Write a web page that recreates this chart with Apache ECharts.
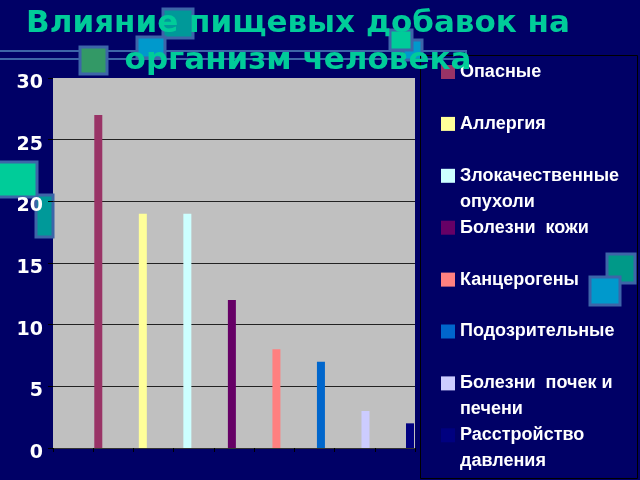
<!DOCTYPE html>
<html>
<head>
<meta charset="utf-8">
<script src="https://cdn.jsdelivr.net/npm/echarts@6/dist/echarts.min.js"></script>
<style>html,body{margin:0;padding:0;background:#000066;}#c{width:640px;height:480px;}</style>
</head>
<body>
<div id="c"></div>
<script>
var titleText = 'Влияние пищевых добавок на\nорганизм человека';
var categories = ['Опасные', 'Аллергия', 'Злокачественные опухоли', 'Болезни кожи', 'Канцерогены', 'Подозрительные', 'Болезни почек и печени', 'Расстройство давления'];
var legendLines = [['Опасные'], ['Аллергия'], ['Злокачественные', 'опухоли'], ['Болезни  кожи'], ['Канцерогены'], ['Подозрительные'], ['Болезни  почек и', 'печени'], ['Расстройство', 'давления']];
var values = [27, 19, 19, 12, 8, 7, 3, 2];
var colors = ['#993366', '#FFFF99', '#CCFFFF', '#660066', '#FF8080', '#0066CC', '#CCCCFF', '#000080'];
var yMin = 0, yMax = 30, yStep = 5;

var chart = echarts.init(document.getElementById('c'));

var gridTop = 78, gridBottom = 32;
var series = categories.map(function (name, i) {
  return {
    type: 'bar', name: name, xAxisIndex: 1, yAxisIndex: 1,
    data: values.map(function (v, j) { return j === i ? v : null; }),
    barWidth: 8, barGap: '-100%', clip: false,
    itemStyle: { color: colors[i] }
  };
});

var legends = categories.map(function (name, i) {
  var lines = legendLines[i];
  var center = 72 + 51.9 * i;
  var two = lines.length > 1;
  return {
    data: [{ name: name, icon: 'rect' }],
    left: 441, top: two ? center - 39 : center - 13,
    padding: 0, itemWidth: 14, itemHeight: 14, selectedMode: false,
    formatter: function () { return two ? '\n' + lines.join('\n') : lines[0]; },
    textStyle: { color: '#ffffff', fontSize: 18, fontWeight: 'bold', fontFamily: 'Liberation Sans, Arial, sans-serif', lineHeight: 26 }
  };
});

function sq(x, y, w, h, fill) {
  return { type: 'rect', shape: { x: x, y: y, width: w, height: h }, style: { fill: fill, stroke: '#3d65a8', lineWidth: 3 }, z: 0 };
}

chart.setOption({
  backgroundColor: '#000066',
  animation: false,
  title: {
    text: titleText, left: 293, top: 0, textAlign: 'center',
    textStyle: { color: '#00cc99', fontSize: 31, fontWeight: 'bold', fontFamily: 'DejaVu Sans, Verdana, sans-serif', lineHeight: 37 }
  },
  graphic: [
    { type: 'rect', shape: { x: -2, y: 51, width: 468, height: 8 }, style: { fill: 'none', stroke: '#3d65a8', lineWidth: 2 }, z: 0 },
    sq(163, 9, 30, 29, '#009999'),
    sq(137, 37, 28, 21, '#0099cc'),
    sq(80, 47, 27, 27, '#339966'),
    sq(403, 40, 19, 20, '#0099cc'),
    sq(390, 30, 22, 20, '#00cc99'),
    sq(36, 195, 17, 42, '#009999'),
    sq(-2, 162, 39, 35, '#00cc99'),
    sq(607, 254, 28, 29, '#009988'),
    sq(590, 277, 30, 28, '#0099cc'),
    { type: 'rect', shape: { x: 420.5, y: 55.5, width: 217, height: 423 }, style: { fill: 'none', stroke: '#000000', lineWidth: 1 }, z: 0 }
  ],
  legend: legends,
  grid: [
    { left: 53, top: gridTop, width: 362, bottom: gridBottom, show: true, backgroundColor: '#c0c0c0', borderWidth: 0 },
    { left: 98.3, top: gridTop, width: 311.7, bottom: gridBottom }
  ],
  xAxis: [
    { type: 'category', gridIndex: 0, data: ['', '', '', '', '', '', '', '', ''],
      axisLine: { show: true, lineStyle: { color: '#333333', width: 1 } },
      axisTick: { show: true, length: 4, interval: 0, lineStyle: { color: '#000000' } },
      axisLabel: { show: false } },
    { type: 'category', gridIndex: 1, data: categories, boundaryGap: false, show: false }
  ],
  yAxis: [
    { type: 'value', gridIndex: 0, min: yMin, max: yMax, interval: yStep,
      axisLine: { show: false },
      axisTick: { show: true, length: 5, lineStyle: { color: '#000000' } },
      axisLabel: { color: '#ffffff', fontSize: 19, fontWeight: 'bold', fontFamily: 'DejaVu Sans, Verdana, sans-serif', margin: 10, verticalAlign: 'top', lineHeight: 10 },
      splitLine: { show: true, showMaxLine: false, lineStyle: { color: '#222222', width: 1 } } },
    { type: 'value', gridIndex: 1, min: yMin, max: yMax, interval: yStep, show: false, splitLine: { show: false } }
  ],
  series: series
});
</script>
</body>
</html>
